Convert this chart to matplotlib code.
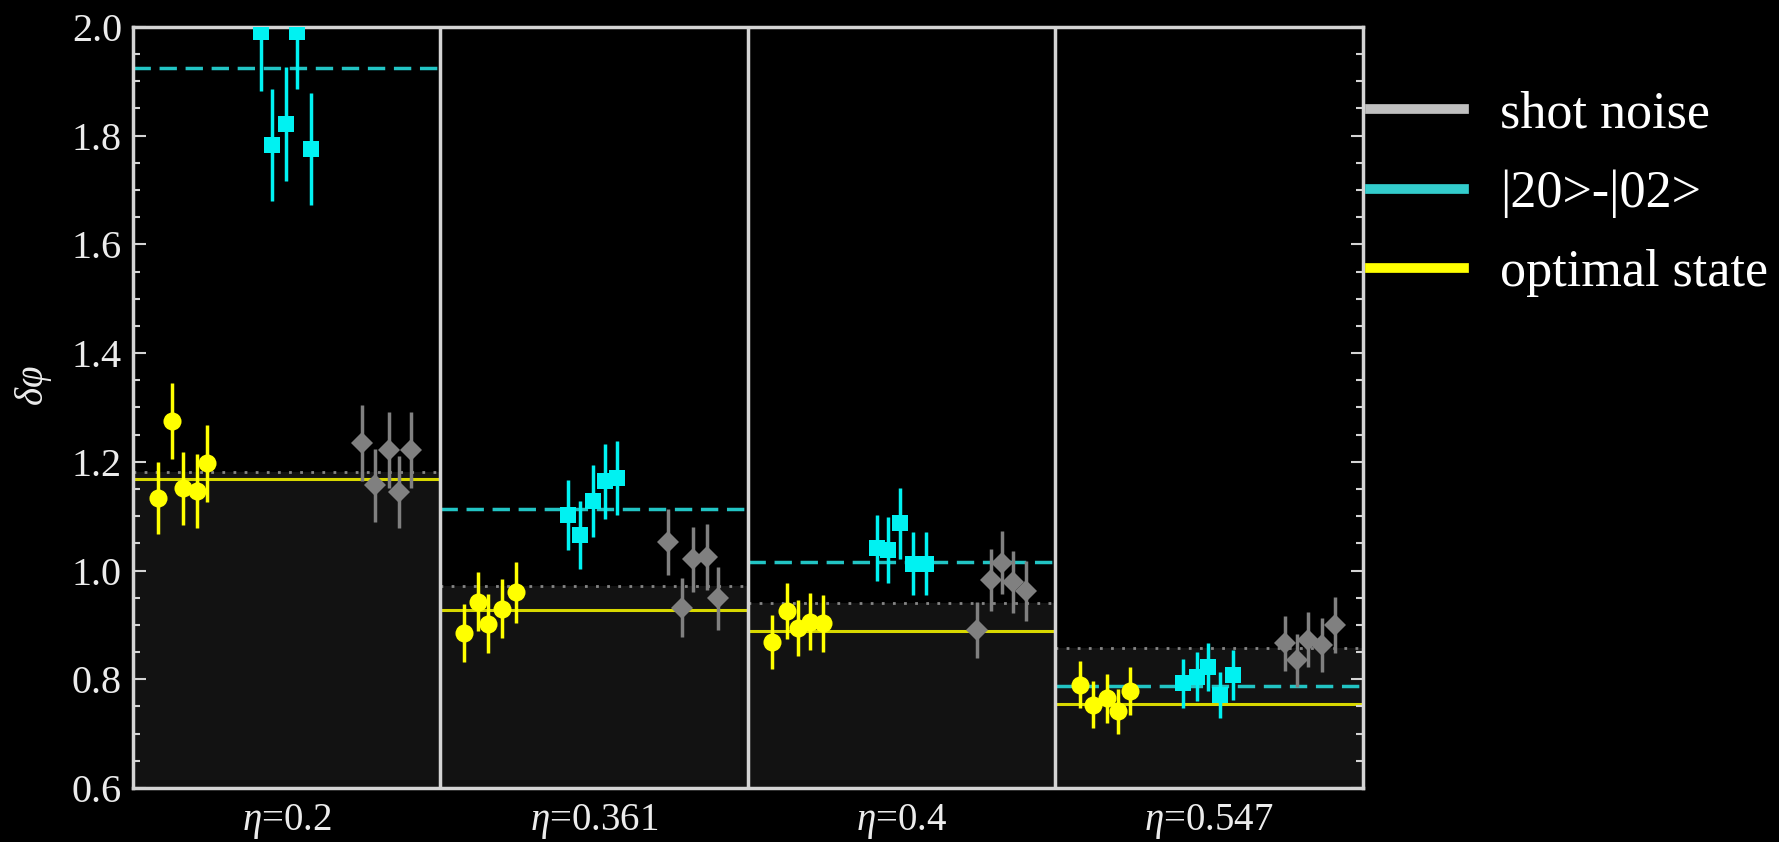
import matplotlib
matplotlib.use('Agg')
import matplotlib.pyplot as plt
from matplotlib.lines import Line2D
import numpy as np

plt.rcParams['font.family'] = ['Liberation Serif', 'DejaVu Serif']
plt.rcParams['mathtext.fontset'] = 'custom'
plt.rcParams['mathtext.rm'] = 'Liberation Serif'
plt.rcParams['mathtext.it'] = 'Liberation Serif:italic'

etas = ['0.2', '0.361', '0.4', '0.547']

# reference levels per panel
shot_noise = [1.181, 0.972, 0.941, 0.858]
noon_level = [1.925, 1.113, 1.016, 0.788]
optimal_level = [1.168, 0.928, 0.888, 0.755]

# optimal state measurements (yellow)
opt_x = [0.081, 0.127, 0.163, 0.208, 0.241,
         1.076, 1.122, 1.154, 1.200, 1.246,
         2.078, 2.127, 2.163, 2.202, 2.244,
         3.080, 3.122, 3.167, 3.203, 3.242]
opt_y = [1.134, 1.275, 1.151, 1.147, 1.197,
         0.885, 0.943, 0.902, 0.930, 0.960,
         0.869, 0.926, 0.894, 0.906, 0.903,
         0.790, 0.753, 0.765, 0.741, 0.778]
opt_err = [0.066, 0.070, 0.068, 0.068, 0.070,
           0.053, 0.055, 0.054, 0.054, 0.056,
           0.050, 0.052, 0.051, 0.052, 0.052,
           0.043, 0.043, 0.045, 0.042, 0.044]

# |20>-|02> measurements (cyan)
noon_x = [0.416, 0.452, 0.498, 0.533, 0.579,
          1.415, 1.454, 1.496, 1.535, 1.574,
          2.420, 2.455, 2.494, 2.537, 2.579,
          3.415, 3.460, 3.496, 3.535, 3.577]
noon_y = [1.990, 1.783, 1.822, 1.990, 1.776,
          1.102, 1.065, 1.128, 1.164, 1.171,
          1.041, 1.038, 1.087, 1.013, 1.013,
          0.793, 0.805, 0.823, 0.771, 0.808]
noon_err = [0.107, 0.103, 0.105, 0.105, 0.103,
            0.064, 0.063, 0.066, 0.069, 0.068,
            0.061, 0.060, 0.065, 0.058, 0.058,
            0.045, 0.045, 0.044, 0.043, 0.046]

# shot noise measurements (gray)
sn_x = [0.745, 0.787, 0.833, 0.865, 0.904,
        1.740, 1.785, 1.821, 1.867, 1.902,
        2.745, 2.790, 2.826, 2.862, 2.904,
        3.746, 3.785, 3.821, 3.867, 3.909]
sn_y = [1.235, 1.157, 1.222, 1.145, 1.222,
        1.053, 0.932, 1.021, 1.025, 0.949,
        0.891, 0.983, 1.014, 0.979, 0.962,
        0.866, 0.835, 0.873, 0.863, 0.900]
sn_err = [0.070, 0.067, 0.070, 0.066, 0.070,
          0.061, 0.054, 0.060, 0.060, 0.058,
          0.052, 0.057, 0.058, 0.057, 0.055,
          0.050, 0.049, 0.050, 0.050, 0.052]

frame_col = '#d4d4d4'
text_col = '#ececec'

fig = plt.figure(figsize=(17.79, 8.42), dpi=100, facecolor='black')
ax = fig.add_axes([0.0748, 0.0641, 0.6912, 0.9039])
ax.set_facecolor('black')

for i in range(len(etas)):
    ax.fill_between([i, i + 1], 0.6, shot_noise[i], color='#121212', lw=0, zorder=0)
    ax.hlines(shot_noise[i], i, i + 1, colors='#858585', linestyles=(0, (1, 3)), lw=2, zorder=1)
    ax.hlines(noon_level[i], i, i + 1, colors='#22c4c4', linestyles=(0, (5, 2.5)), lw=2.5, zorder=1)
    ax.hlines(optimal_level[i], i, i + 1, colors='#d8d800', lw=2.2, zorder=1)

for i in range(1, len(etas)):
    ax.axvline(i, color=frame_col, lw=2.5, zorder=5)

ax.errorbar(sn_x, sn_y, yerr=sn_err, fmt='D', ms=11, color='#808080', mew=0,
            elinewidth=2.5, capsize=3.8, capthick=2.5, zorder=3)
ax.errorbar(noon_x, noon_y, yerr=noon_err, fmt='s', ms=11.5, color='#00f2f2', mew=0,
            elinewidth=2.5, capsize=3.8, capthick=2.5, zorder=3)
ax.errorbar(opt_x, opt_y, yerr=opt_err, fmt='o', ms=13, color='#ffff00', mew=0,
            elinewidth=2.5, capsize=3.8, capthick=2.5, zorder=4)

ax.set_xlim(0, len(etas))
ax.set_ylim(0.6, 2.0)
ax.set_xticks(np.arange(len(etas)) + 0.5)
ax.set_xticklabels(['$\\eta$=' + e for e in etas], fontsize=28, color=text_col)
ax.set_yticks(np.arange(0.6, 2.01, 0.2))
ax.set_yticklabels(['%.1f' % v for v in np.arange(0.6, 2.01, 0.2)], fontsize=29, color=text_col)
ax.set_yticks(np.arange(0.6, 2.01, 0.05), minor=True)
ax.tick_params(axis='x', length=0, pad=10)
ax.tick_params(axis='y', which='both', direction='in', right=True, colors=frame_col,
               labelcolor=text_col, width=1.5)
ax.tick_params(axis='y', which='major', length=9, pad=8)
ax.tick_params(axis='y', which='minor', length=5)
for s in ax.spines.values():
    s.set_color(frame_col)
    s.set_linewidth(2.5)

ax.set_ylabel('$\\delta\\varphi$', fontsize=28, color=text_col, ha='center', va='center')
ax.yaxis.set_label_coords(-0.081, 0.528)

handles = [Line2D([], [], color='#c0c0c0', lw=7),
           Line2D([], [], color='#33cccc', lw=7),
           Line2D([], [], color='#ffff00', lw=7)]
leg = fig.legend(handles, ['shot noise', '|20>-|02>', 'optimal state'],
                 loc='upper left', bbox_to_anchor=(0.770, 0.893), frameon=False,
                 fontsize=37.5, handlelength=1.8, handletextpad=0.7, labelspacing=0.6,
                 borderpad=0, borderaxespad=0)
for t in leg.get_texts():
    t.set_color('white')

fig.savefig('out.png', dpi=100, facecolor='black')
